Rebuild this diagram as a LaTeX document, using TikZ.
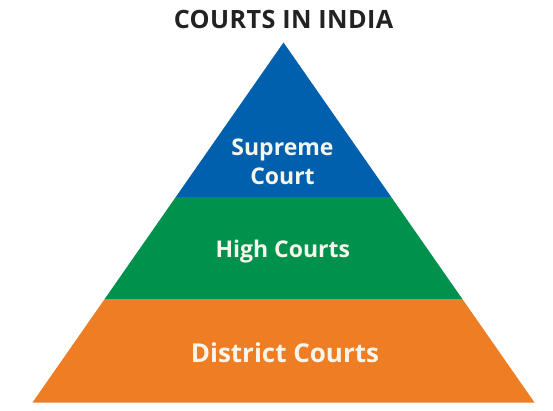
\documentclass[tikz,border=0pt]{standalone}
\usepackage{fontspec}
\setmainfont{Open Sans}
\usetikzlibrary{calc}
\definecolor{scblue}{HTML}{0060AE}
\definecolor{hcgreen}{HTML}{00914D}
\definecolor{dcorange}{HTML}{EE7D24}
\definecolor{titlegray}{HTML}{222222}
\definecolor{labelwhite}{HTML}{F8F6EC}
\tikzset{
  tierlabel/.style={text=labelwhite, font=\bfseries\fontsize{23}{29}\selectfont, align=center, inner sep=0pt},
  biglabel/.style={tierlabel, font=\bfseries\fontsize{26}{30}\selectfont},
  titlelabel/.style={text=titlegray, font=\addfontfeatures{LetterSpace=1.5}\bfseries\fontsize{25.2}{28}\selectfont, inner sep=0pt}
}
\begin{document}
\begin{tikzpicture}[x=1pt,y=-1pt]
\useasboundingbox (0,0) rectangle (553,410);
\coordinate (apex) at (283.5,42.5);
\coordinate (bl) at (32.5,402.5);
\coordinate (br) at (534.5,402.5);
\coordinate (l1) at ($(apex)!0.4292!(bl)$);
\coordinate (r1) at ($(apex)!0.4292!(br)$);
\coordinate (l2) at ($(apex)!0.7139!(bl)$);
\coordinate (r2) at ($(apex)!0.7139!(br)$);
\fill[scblue] (apex) -- (r1) -- (l1) -- cycle;
\fill[hcgreen] (l1) -- (r1) -- (r2) -- (l2) -- cycle;
\fill[dcorange] (l2) -- (r2) -- (br) -- (bl) -- cycle;
\node[titlelabel, anchor=base] (title) at (283.5,28) {COURTS IN INDIA};
\node[tierlabel, anchor=base] (sc) at (282.5,184) {Supreme\\Court};
\node[tierlabel, anchor=base] (hc) at (282.8,257.5) {High Courts};
\node[biglabel, anchor=base] (dc) at (285,362) {District Courts};
\end{tikzpicture}
\end{document}
